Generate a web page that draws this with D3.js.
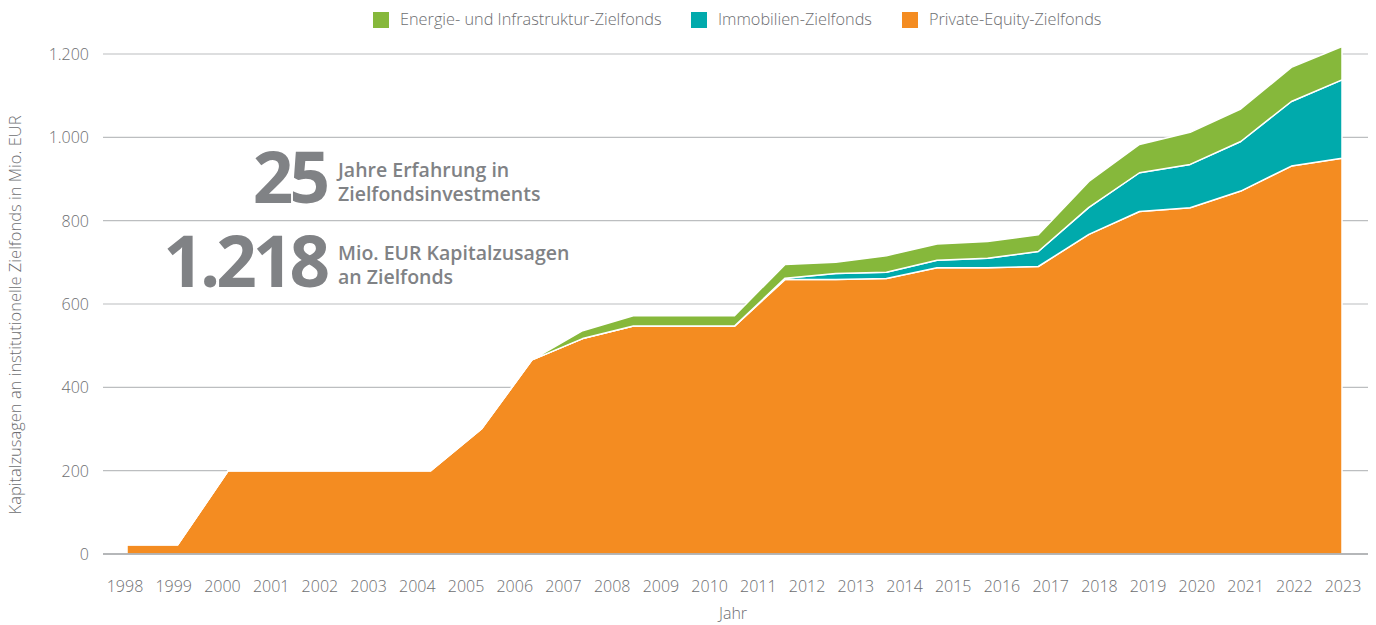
<!DOCTYPE html>
<html>
<head>
<meta charset="utf-8">
<script src="https://cdn.jsdelivr.net/npm/d3@7"></script>
<style>
  body { margin: 0; background: #fff; }
  svg { display: block; font-family: 'Open Sans', sans-serif; }
  .tick-label { font-size: 16px; font-weight: 300; fill: #6d6e71; }
  .axis-title { font-size: 16.5px; font-weight: 300; fill: #6d6e71; }
  .legend-label { font-size: 16.3px; font-weight: 300; fill: #6d6e71; }
  .big { font-weight: 700; fill: #808285; font-size: 71px; letter-spacing: -4px; }
  .side { font-weight: 600; fill: #808285; font-size: 19.5px; }
</style>
</head>
<body>
<script>
// tick labels on the x axis
const years = [1998, 1999, 2000, 2001, 2002, 2003, 2004, 2005, 2006, 2007, 2008, 2009, 2010,
  2011, 2012, 2013, 2014, 2015, 2016, 2017, 2018, 2019, 2020, 2021, 2022, 2023]

// stacked series, Mio. EUR (25 data points spread over the axis)
const privateEquity = [22, 22, 200, 200, 200, 200, 200, 300, 466, 517, 547, 547, 547,
  659, 659, 661, 687, 687, 690, 767, 822, 831, 871, 931, 950]
const immobilien = [0, 0, 0, 0, 0, 0, 0, 0, 0, 0, 0, 0, 0,
  3, 14, 15, 18, 23, 36, 65, 93, 104, 119, 155, 188]
const energie = [0, 0, 0, 0, 0, 0, 0, 0, 0, 19, 25, 25, 25,
  33, 27, 40, 39, 40, 40, 62, 68, 77, 78, 82, 80]

const yTicks = [0, 200, 400, 600, 800, 1000, 1200]

const series = [
  { key: 'pe', label: 'Private-Equity-Zielfonds', color: '#f48c21' },
  { key: 'immo', label: 'Immobilien-Zielfonds', color: '#00aaac' },
  { key: 'energie', label: 'Energie- und Infrastruktur-Zielfonds', color: '#86b83b' }
]

const rows = privateEquity.map((v, i) => ({ i: i, pe: v, immo: immobilien[i], energie: energie[i] }))

const de = d3.formatLocale({ decimal: ',', thousands: '.', grouping: [3], currency: ['', ' €'] })
const fmt = de.format(',d')

const chart = () => {
  let svg = d3.select('body').append('svg')
    .attr('width', 1376)
    .attr('height', 625)

  let y = d3.scaleLinear().domain([0, 1200]).range([554, 54])
  let x = d3.scaleLinear().domain([0, rows.length - 1]).range([127, 1342])
  let xLab = d3.scalePoint().domain(years).range([125, 1343])

  // grid
  svg.append('g').selectAll('line')
    .data(yTicks.filter(d => d > 0)).enter()
    .append('line')
    .attr('x1', 103).attr('x2', 1368)
    .attr('y1', d => y(d)).attr('y2', d => y(d))
    .attr('stroke', '#bcbec0').attr('stroke-width', 1.2)

  let stacked = d3.stack().keys(series.map(s => s.key))(rows)

  let area = d3.area()
    .x(d => x(d.data.i))
    .y0(d => y(d[0]))
    .y1(d => y(d[1]))

  svg.append('g').selectAll('path')
    .data(stacked).enter()
    .append('path')
    .attr('d', area)
    .attr('fill', (d, i) => series[i].color)
    .attr('stroke', '#fff')
    .attr('stroke-width', 1.5)
    .attr('stroke-linejoin', 'round')

  // baseline
  svg.append('line')
    .attr('x1', 103).attr('x2', 1368)
    .attr('y1', y(0)).attr('y2', y(0))
    .attr('stroke', '#9d9fa2').attr('stroke-width', 1.5)

  // y labels
  svg.append('g').selectAll('text')
    .data(yTicks).enter()
    .append('text')
    .attr('class', 'tick-label')
    .attr('x', 89)
    .attr('y', d => y(d) + 6)
    .attr('text-anchor', 'end')
    .text(d => fmt(d))

  // x labels
  svg.append('g').selectAll('text')
    .data(years).enter()
    .append('text')
    .attr('class', 'tick-label')
    .attr('x', d => xLab(d))
    .attr('y', 592)
    .attr('text-anchor', 'middle')
    .text(d => d)

  svg.append('text')
    .attr('class', 'tick-label')
    .attr('x', 733).attr('y', 619)
    .attr('text-anchor', 'middle')
    .text('Jahr')

  svg.append('text')
    .attr('class', 'axis-title')
    .attr('transform', 'translate(21,315) rotate(-90)')
    .attr('text-anchor', 'middle')
    .text('Kapitalzusagen an institutionelle Zielfonds in Mio. EUR')

  // legend
  let legendItems = [series[2], series[1], series[0]]
  let legendX = [373, 691, 902]
  let lg = svg.append('g').selectAll('g')
    .data(legendItems).enter()
    .append('g')
    .attr('transform', (d, i) => `translate(${legendX[i]},12)`)
  lg.append('rect')
    .attr('width', 16).attr('height', 16)
    .attr('fill', d => d.color)
  lg.append('text')
    .attr('class', 'legend-label')
    .attr('x', 27).attr('y', 13)
    .text(d => d.label)

  // annotation
  svg.append('text').attr('class', 'big')
    .attr('x', 326).attr('y', 203)
    .attr('text-anchor', 'end')
    .text('25')
  svg.append('text').attr('class', 'big')
    .attr('x', 326).attr('y', 287)
    .attr('text-anchor', 'end')
    .text('1.218')

  let side = [
    ['Jahre Erfahrung in', 177],
    ['Zielfondsinvestments', 201],
    ['Mio. EUR Kapitalzusagen', 260],
    ['an Zielfonds', 284]
  ]
  svg.append('g').selectAll('text')
    .data(side).enter()
    .append('text')
    .attr('class', 'side')
    .attr('x', 338)
    .attr('y', d => d[1])
    .text(d => d[0])
}

chart()
</script>
</body>
</html>
